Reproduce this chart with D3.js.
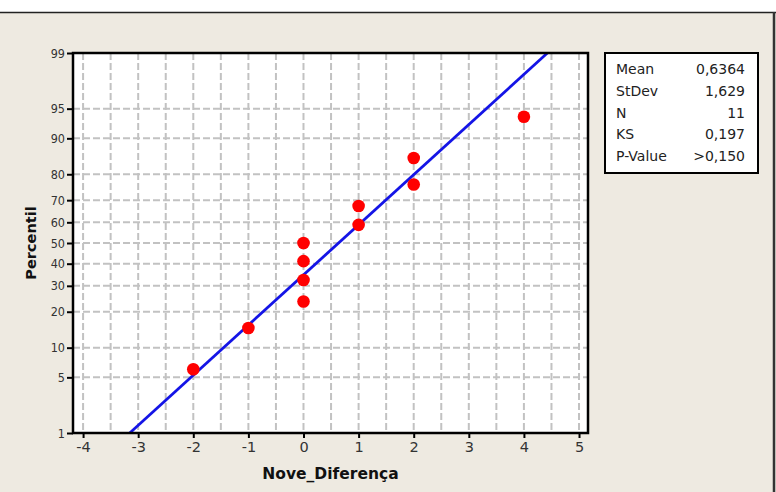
<!DOCTYPE html>
<html>
<head>
<meta charset="utf-8">
<script src="https://cdn.jsdelivr.net/npm/d3@7"></script>
<style>
  html, body { margin: 0; padding: 0; background: #ffffff; }
  svg { display: block; }
</style>
</head>
<body>
<script>
// ---- data ----
const values      = [-2, -1, 0, 0, 0, 0, 1, 1, 2, 2, 4];
const percentiles = [6.1, 14.9, 23.7, 32.5, 41.2, 50.0, 58.8, 67.5, 76.3, 85.1, 93.9];
const xTicks = [-4, -3, -2, -1, 0, 1, 2, 3, 4, 5];
const xGrid  = [-4, -3.5, -3, -2.5, -2, -1.5, -1, -0.5, 0, 0.5, 1, 1.5, 2, 2.5, 3, 3.5, 4, 4.5, 5];
const yTicks = [1, 5, 10, 20, 30, 40, 50, 60, 70, 80, 90, 95, 99];
const statLabels = ["Mean", "StDev", "N", "KS", "P-Value"];
const statValues = ["0,6364", "1,629", "11", "0,197", ">0,150"];
const fitMean = 0.6364, fitSd = 1.629;
const fitP = [1, 99];
const xTitle = "Nove_Diferença", yTitle = "Percentil";

// inverse standard normal CDF (Acklam)
function probit(p) {
  const a = [-3.969683028665376e+01, 2.209460984245205e+02, -2.759285104469687e+02, 1.383577518672690e+02, -3.066479806614716e+01, 2.506628277459239e+00];
  const b = [-5.447609879822406e+01, 1.615858368580409e+02, -1.556989798598866e+02, 6.680131188771972e+01, -1.328068155288572e+01];
  const c = [-7.784894002430293e-03, -3.223964580411365e-01, -2.400758277161838e+00, -2.549732539343734e+00, 4.374664141464968e+00, 2.938163982698783e+00];
  const d = [7.784695709041462e-03, 3.224671290700398e-01, 2.445134137142996e+00, 3.754408661907416e+00];
  const pl = 0.02425;
  let q, r;
  if (p < pl) { q = Math.sqrt(-2 * Math.log(p));
    return (((((c[0]*q+c[1])*q+c[2])*q+c[3])*q+c[4])*q+c[5]) / ((((d[0]*q+d[1])*q+d[2])*q+d[3])*q+1); }
  if (p > 1 - pl) { q = Math.sqrt(-2 * Math.log(1 - p));
    return -(((((c[0]*q+c[1])*q+c[2])*q+c[3])*q+c[4])*q+c[5]) / ((((d[0]*q+d[1])*q+d[2])*q+d[3])*q+1); }
  q = p - 0.5; r = q * q;
  return (((((a[0]*r+a[1])*r+a[2])*r+a[3])*r+a[4])*r+a[5])*q / (((((b[0]*r+b[1])*r+b[2])*r+b[3])*r+b[4])*r+1);
}

const W = 776, H = 492;
const L = 73, R = 588, T = 53, B = 433;

const svg = d3.select("body").append("svg").attr("width", W).attr("height", H);

// panel background
svg.append("rect").attr("x", 0).attr("y", 12).attr("width", W).attr("height", H - 12).attr("fill", "#eeeae1");
svg.append("line").attr("x1", 0).attr("x2", W).attr("y1", 12.5).attr("y2", 12.5).attr("stroke", "#222").attr("stroke-width", 1.5);
svg.append("line").attr("x1", 774).attr("x2", 774).attr("y1", 12).attr("y2", H).attr("stroke", "#333").attr("stroke-width", 2.5);

const x = d3.scaleLinear().domain([-4.183, 5.163]).range([L, R]);
const yLin = d3.scaleLinear().domain([probit(0.01), probit(0.99)]).range([B, T]);
const y = p => yLin(probit(p / 100));
y.copy = () => y;
y.range = () => yLin.range();
y.domain = () => [1, 99];

// plot area
svg.append("rect").attr("x", L).attr("y", T).attr("width", R - L).attr("height", B - T).attr("fill", "#ffffff");

// grid
const g = svg.append("g").attr("stroke", "#c2c2c2").attr("stroke-width", 2).attr("stroke-dasharray", "7,3");
g.selectAll("line.v").data(xGrid).join("line").attr("class", "v")
  .attr("x1", d => x(d)).attr("x2", d => x(d)).attr("y1", T).attr("y2", B);
g.selectAll("line.h").data(yTicks.filter(d => d > 1 && d < 99)).join("line").attr("class", "h")
  .attr("x1", L).attr("x2", R).attr("y1", d => y(d)).attr("y2", d => y(d));

// fitted line
const line = d3.line().x(p => x(fitMean + fitSd * probit(p / 100))).y(p => y(p));
svg.append("path").datum(fitP).attr("d", line).attr("fill", "none").attr("stroke", "#1414e6").attr("stroke-width", 2.8);

// points
svg.append("g").selectAll("circle").data(values).join("circle")
  .attr("cx", d => x(d)).attr("cy", (d, i) => y(percentiles[i])).attr("r", 6.3).attr("fill", "#ff0000");

// frame
svg.append("rect").attr("x", L).attr("y", T).attr("width", R - L).attr("height", B - T)
  .attr("fill", "none").attr("stroke", "#000").attr("stroke-width", 2.5);

// axes
const xAxis = svg.append("g").attr("transform", `translate(0,${B})`)
  .call(d3.axisBottom(x).tickValues(xTicks).tickSize(5).tickPadding(4).tickFormat(d3.format("d")));
const yAxis = svg.append("g").attr("transform", `translate(${L},0)`)
  .call(d3.axisLeft(y).tickValues(yTicks).tickSize(6).tickPadding(2).tickFormat(d => d));
[xAxis, yAxis].forEach(a => {
  a.select(".domain").remove();
  a.attr("font-size", null).attr("font-family", null);
  a.selectAll(".tick line").attr("stroke", "#000").attr("stroke-width", 2);
  a.selectAll(".tick text").attr("fill", "#333");
});
xAxis.selectAll(".tick text").text(d => d < 0 ? "-" + Math.abs(d) : d)
  .style("font-family", "'DejaVu Sans', sans-serif").style("font-size", "14.5px");
yAxis.selectAll(".tick text")
  .style("font-family", "'DejaVu Sans Condensed', 'DejaVu Sans', sans-serif").style("font-size", "12.5px");

// titles
svg.append("text").attr("x", (L + R) / 2).attr("y", 479).attr("text-anchor", "middle")
  .style("font-family", "'DejaVu Sans', sans-serif").style("font-size", "15.5px").style("font-weight", "bold")
  .attr("fill", "#111").text(xTitle);
svg.append("text").attr("transform", `translate(36,${(T + B) / 2}) rotate(-90)`).attr("text-anchor", "middle")
  .style("font-family", "'DejaVu Sans', sans-serif").style("font-size", "14.5px").style("font-weight", "bold")
  .attr("fill", "#111").text(yTitle);

// stats box
svg.append("rect").attr("x", 605).attr("y", 53).attr("width", 153).attr("height", 120)
  .attr("fill", "#fff").attr("stroke", "#000").attr("stroke-width", 2);
const sg = svg.append("g").style("font-family", "'DejaVu Sans', sans-serif").style("font-size", "14px").attr("fill", "#222");
sg.selectAll("text.l").data(statLabels).join("text").attr("class", "l")
  .attr("x", 616).attr("y", (d, i) => 74 + i * 21.8).text(d => d);
sg.selectAll("text.v").data(statValues).join("text").attr("class", "v")
  .attr("x", 745).attr("y", (d, i) => 74 + i * 21.8).attr("text-anchor", "end").text(d => d);
</script>
</body>
</html>
